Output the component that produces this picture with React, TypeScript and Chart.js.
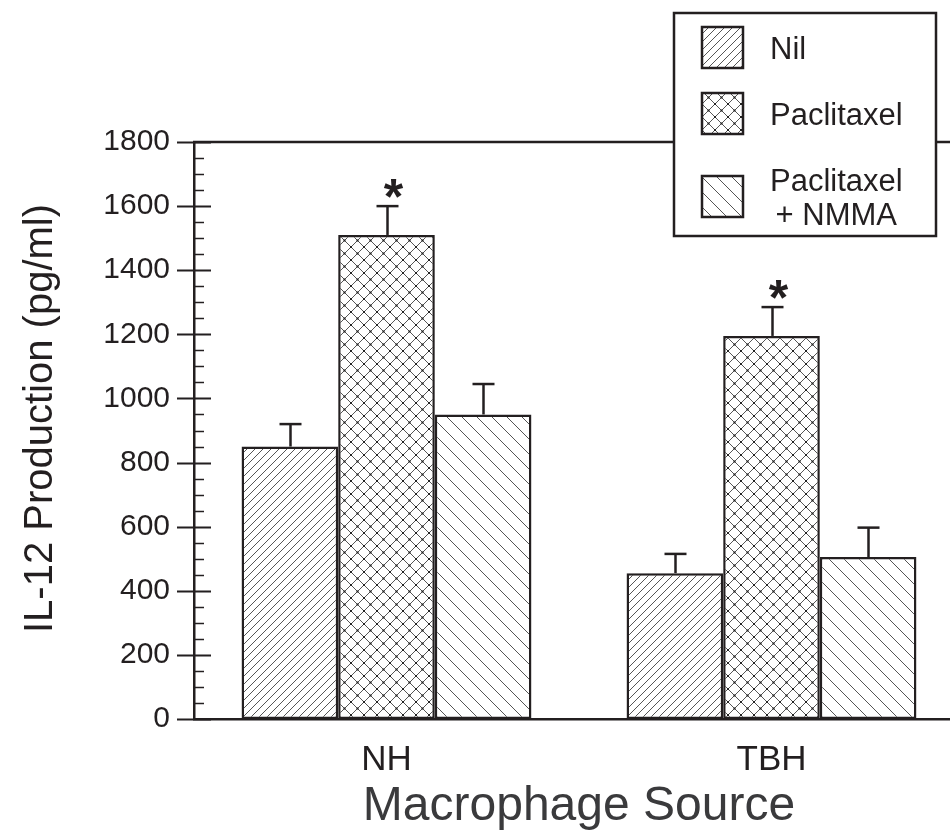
import React, { useEffect, useRef } from 'react';
import { Chart, registerables } from 'chart.js';

Chart.register(...registerables);

// ---------- data ----------
const categories = ['NH', 'TBH'];
const seriesNames = ['Nil', 'Paclitaxel', 'Paclitaxel + NMMA'];
const legendLines = [['Nil'], ['Paclitaxel'], ['Paclitaxel', '+ NMMA']];
const nilValues = [850, 455];
const paclitaxelValues = [1510, 1195];
const nmmaValues = [950, 505];
const nilErrors = [70, 60];
const paclitaxelErrors = [90, 90];
const nmmaErrors = [95, 92];
const nilSignificant = [false, false];
const paclitaxelSignificant = [true, true];
const nmmaSignificant = [false, false];
const yMin = 0;
const yMax = 1800;
const yMajorStep = 200;
const yMinorStep = 50;
const xTitle = 'Macrophage Source';
const yTitle = 'IL-12 Production (pg/ml)';

const FONT = '"Liberation Sans", Arial, Helvetica, sans-serif';
const INK = '#231f20';
const HATCH = '#555555';

function makeDiagPattern(ctx: CanvasRenderingContext2D, d: number, forward: boolean, back: boolean) {
  const c = document.createElement('canvas');
  c.width = d;
  c.height = d;
  const g = c.getContext('2d')!;
  g.fillStyle = '#ffffff';
  g.fillRect(0, 0, d, d);
  g.strokeStyle = HATCH;
  g.lineWidth = 1;
  g.lineCap = 'square';
  if (forward) {
    for (const k of [-1, 0, 1]) {
      g.beginPath();
      g.moveTo(k * d - 1, d + 1);
      g.lineTo(k * d + d + 1, -1);
      g.stroke();
    }
  }
  if (back) {
    for (const k of [-1, 0, 1]) {
      g.beginPath();
      g.moveTo(k * d - 1, -1);
      g.lineTo(k * d + d + 1, d + 1);
      g.stroke();
    }
  }
  if (forward && back) {
    g.fillStyle = '#222';
    g.fillRect(d / 2 - 1, d / 2 - 1, 2, 2);
    g.fillRect(-1, -1, 2, 2);
    g.fillRect(d - 1, -1, 2, 2);
    g.fillRect(-1, d - 1, 2, 2);
    g.fillRect(d - 1, d - 1, 2, 2);
  }
  return ctx.createPattern(c, 'repeat')!;
}

export default function App() {
  const ref = useRef<HTMLCanvasElement | null>(null);

  useEffect(() => {
    const canvas = ref.current!;
    const ctx = canvas.getContext('2d')!;
    const patterns = [
      makeDiagPattern(ctx, 8, true, false),
      makeDiagPattern(ctx, 13, true, true),
      makeDiagPattern(ctx, 15, false, true),
    ];
    const values = [nilValues, paclitaxelValues, nmmaValues];
    const errors = [nilErrors, paclitaxelErrors, nmmaErrors];
    const significant = [nilSignificant, paclitaxelSignificant, nmmaSignificant];

    const decor = {
      id: 'decor',
      afterDraw(chart: any) {
        const c = chart.ctx as CanvasRenderingContext2D;
        const area = chart.chartArea;
        const ys = chart.scales.y;
        c.save();
        c.strokeStyle = INK;
        c.lineCap = 'butt';

        // top frame line
        c.lineWidth = 2.5;
        c.beginPath();
        c.moveTo(area.left - 1, area.top);
        c.lineTo(area.right, area.top);
        c.stroke();

        // y ticks
        const ax = area.left;
        for (let v = yMin; v <= yMax; v += yMinorStep) {
          const y = Math.round(ys.getPixelForValue(v)) + 0.5;
          c.beginPath();
          if (v % yMajorStep === 0) {
            c.lineWidth = 1.8;
            c.moveTo(ax - 17, y);
            c.lineTo(ax + 17, y);
          } else {
            c.lineWidth = 1.5;
            c.moveTo(ax, y);
            c.lineTo(ax + 10, y);
          }
          c.stroke();
        }

        // y axis title
        c.save();
        c.translate(41, (area.top + area.bottom) / 2 - 12);
        c.rotate(-Math.PI / 2);
        c.font = `40px ${FONT}`;
        c.fillStyle = INK;
        c.textAlign = 'center';
        c.textBaseline = 'middle';
        c.fillText(yTitle, 0, 0);
        c.restore();

        // error bars + significance marks
        for (let s = 0; s < values.length; s++) {
          const meta = chart.getDatasetMeta(s);
          meta.data.forEach((bar: any, i: number) => {
            const top = ys.getPixelForValue(values[s][i] + errors[s][i]);
            const x = Math.round(bar.x) + 0.5;
            c.lineWidth = 2.5;
            c.beginPath();
            c.moveTo(x, bar.y);
            c.lineTo(x, top);
            c.stroke();
            c.beginPath();
            c.moveTo(x - 11, top);
            c.lineTo(x + 11, top);
            c.stroke();
            if (significant[s][i]) {
              c.font = `bold 50px ${FONT}`;
              c.fillStyle = INK;
              c.textAlign = 'center';
              c.textBaseline = 'alphabetic';
              const m = c.measureText('*');
              const cy = top - 18;
              c.fillText('*', x + 6, cy + (m.actualBoundingBoxAscent - m.actualBoundingBoxDescent) / 2);
            }
          });
        }

        // legend box
        const bx = 674, by = 13, bw = 262;
        const sw = 41, padTop = 14, gap = 25, lineH = 34, padBottom = 2;
        const itemH = legendLines.map((l) => Math.max(sw, sw + (l.length - 1) * lineH));
        const bh = padTop + itemH.reduce((a, b) => a + b, 0) + gap * (itemH.length - 1) + padBottom;
        c.fillStyle = '#ffffff';
        c.fillRect(bx, by, bw, bh);
        c.lineWidth = 2.5;
        c.strokeStyle = INK;
        c.strokeRect(bx, by, bw, bh);
        let cursor = by + padTop;
        c.font = `31px ${FONT}`;
        c.textBaseline = 'alphabetic';
        for (let s = 0; s < legendLines.length; s++) {
          const cy = cursor + itemH[s] / 2;
          const sx = bx + 28;
          const sy = cy - sw / 2;
          c.fillStyle = patterns[s];
          c.fillRect(sx, sy, sw, sw);
          c.lineWidth = 2.5;
          c.strokeRect(sx, sy, sw, sw);
          const lines = legendLines[s];
          const widths = lines.map((t) => c.measureText(t).width);
          const maxW = Math.max(...widths);
          const tx = bx + 96;
          c.fillStyle = INK;
          c.textAlign = 'center';
          const capH = c.measureText('P').actualBoundingBoxAscent;
          const blockH = capH + (lines.length - 1) * lineH;
          const firstBase = cy - blockH / 2 + capH;
          lines.forEach((t, li) => {
            c.fillText(t, tx + maxW / 2, firstBase + li * lineH);
          });
          cursor += itemH[s] + gap;
        }
        c.restore();
      },
    };

    const chart = new Chart(canvas, {
      type: 'bar',
      data: {
        labels: categories,
        datasets: seriesNames.map((name, s) => ({
          label: name,
          data: values[s],
          backgroundColor: patterns[s] as any,
          borderColor: INK,
          borderWidth: 2.5,
          borderSkipped: false,
          barPercentage: 1,
          categoryPercentage: 0.753,
        })),
      },
      options: {
        animation: false,
        responsive: false,
        maintainAspectRatio: false,
        devicePixelRatio: 1,
        layout: { padding: { top: 142, right: 16, bottom: 0, left: 0 } },
        plugins: {
          legend: { display: false },
          tooltip: { enabled: false },
          title: { display: false },
        },
        scales: {
          x: {
            type: 'category',
            offset: true,
            grid: { display: false, drawTicks: false },
            border: { display: true, color: INK, width: 2.5 },
            ticks: {
              color: INK,
              font: { family: FONT, size: 35 },
              padding: 20,
            },
            title: {
              display: true,
              text: xTitle,
              color: '#3a3a3c',
              font: { family: FONT, size: 48, lineHeight: 0.95 },
              padding: { top: 0, bottom: 0 },
            },
            afterFit(scale: any) {
              scale.height = 111;
            },
          },
          y: {
            min: yMin,
            max: yMax,
            grid: { display: false, drawTicks: false },
            border: { display: true, color: INK, width: 2.5 },
            ticks: {
              stepSize: yMajorStep,
              color: INK,
              font: { family: FONT, size: 30 },
              padding: 24,
              callback: (v: any) => String(v),
            },
            title: { display: false, text: yTitle },
            afterFit(scale: any) {
              scale.width = 194;
            },
          },
        },
      },
      plugins: [decor],
    });
    return () => chart.destroy();
  }, []);

  return (
    <div
      style={{
        position: 'fixed',
        left: 0,
        top: 0,
        width: 950,
        height: 830,
        overflow: 'hidden',
        background: '#ffffff',
      }}
    >
      <canvas ref={ref} width={980} height={830} style={{ width: 980, height: 830, display: 'block' }} />
    </div>
  );
}
